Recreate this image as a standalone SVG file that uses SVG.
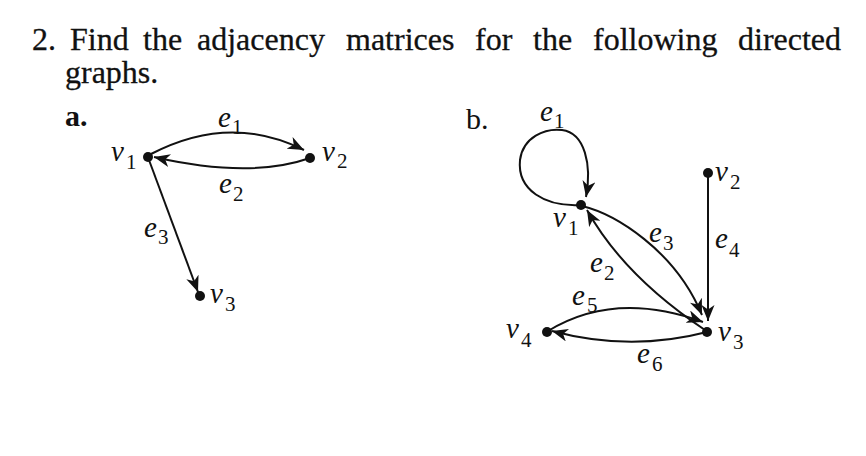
<svg xmlns="http://www.w3.org/2000/svg" width="866" height="456" viewBox="0 0 866 456">
<style>
.m{font-family:"Liberation Serif","Times New Roman",serif;font-size:32px;fill:#111;stroke:#111;stroke-width:0.3}
.hb{font-family:"Liberation Serif",serif;font-size:30px;fill:#111}
.lb{font-family:"Liberation Serif","Times New Roman",serif;font-style:italic;font-size:29px;fill:#111}
.sb{font-family:"Liberation Serif","Times New Roman",serif;font-size:21px;fill:#111}
.e{fill:none;stroke:#111;stroke-width:2}
.n{fill:#111}
</style>
<defs>
<marker id="ah" markerUnits="userSpaceOnUse" markerWidth="17" markerHeight="13" viewBox="0 0 17 13" refX="16" refY="6.5" orient="auto">
<path d="M0,0 L16,6.5 L0,13 L4.5,6.5 z" fill="#111"/>
</marker>
</defs>
<rect width="866" height="456" fill="#fff"/>
<g id="heading">
<text class="m" x="32" y="50">2.</text>
<text class="m" x="70" y="50">Find</text>
<text class="m" x="143" y="50">the</text>
<text class="m" x="197" y="50">adjacency</text>
<text class="m" x="346" y="50">matrices</text>
<text class="m" x="475" y="50">for</text>
<text class="m" x="533" y="50">the</text>
<text class="m" x="593" y="50">following</text>
<text class="m" x="738" y="50">directed</text>
<text class="m" x="65" y="83">graphs.</text>
<text class="hb" x="65" y="126" font-weight="bold">a.</text>
<text class="hb" x="466" y="129">b.</text>
</g>
<g id="connectors">
<path class="e" d="M151,154 Q230,113 304,150" marker-end="url(#ah)"/>
<path class="e" d="M310,158 Q250,179 154,157" marker-end="url(#ah)"/>
<path class="e" d="M149,160 L198,292" marker-end="url(#ah)"/>
<path class="e" d="M581,205 C545,207 517,190 520,160 C523,137 545,128 562,130 C585,133 592,165 586,197" marker-end="url(#ah)"/>
<path class="e" d="M705,330 C660,300 615,260 587,210" marker-end="url(#ah)"/>
<path class="e" d="M582,206 C615,214 675,250 702,315" marker-end="url(#ah)"/>
<path class="e" d="M708,173 L708,321" marker-end="url(#ah)"/>
<path class="e" d="M548,331 Q615,290 703,322" marker-end="url(#ah)"/>
<path class="e" d="M707,332 Q630,352 552,331" marker-end="url(#ah)"/>
</g>
<g id="edge-labels">
<text class="lb" x="218" y="127">e</text><text class="sb" x="232" y="134">1</text>
<text class="lb" x="219" y="193">e</text><text class="sb" x="233" y="201">2</text>
<text class="lb" x="144" y="237">e</text><text class="sb" x="158" y="244">3</text>
<text class="lb" x="540" y="121">e</text><text class="sb" x="554" y="128">1</text>
<text class="lb" x="649" y="242">e</text><text class="sb" x="663" y="250">3</text>
<text class="lb" x="715" y="248">e</text><text class="sb" x="729" y="257">4</text>
<text class="lb" x="590" y="272">e</text><text class="sb" x="604" y="280">2</text>
<text class="lb" x="572" y="305">e</text><text class="sb" x="587" y="312">5</text>
<text class="lb" x="637" y="363">e</text><text class="sb" x="652" y="371">6</text>
</g>
<g id="a-v1"><circle class="n" cx="148" cy="157" r="5"/><text class="lb" x="111" y="161">v</text><text class="sb" x="126" y="169">1</text></g>
<g id="a-v2"><circle class="n" cx="310" cy="158" r="5"/><text class="lb" x="322" y="161">v</text><text class="sb" x="337" y="168">2</text></g>
<g id="a-v3"><circle class="n" cx="200" cy="296" r="5"/><text class="lb" x="210" y="303">v</text><text class="sb" x="225" y="311">3</text></g>
<g id="b-v1"><circle class="n" cx="581" cy="205" r="5"/><text class="lb" x="553" y="227">v</text><text class="sb" x="568" y="235">1</text></g>
<g id="b-v2"><circle class="n" cx="708" cy="173" r="5"/><text class="lb" x="715" y="181">v</text><text class="sb" x="730" y="189">2</text></g>
<g id="b-v3"><circle class="n" cx="707" cy="332" r="5"/><text class="lb" x="718" y="341">v</text><text class="sb" x="733" y="349">3</text></g>
<g id="b-v4"><circle class="n" cx="547" cy="332" r="5"/><text class="lb" x="506" y="338">v</text><text class="sb" x="521" y="347">4</text></g>
</svg>
